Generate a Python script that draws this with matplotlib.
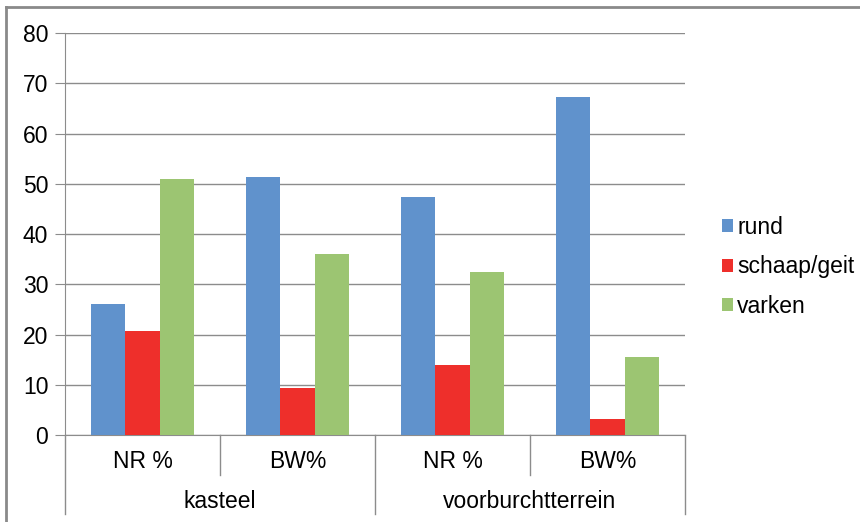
import numpy as np
import matplotlib
matplotlib.use("Agg")
import matplotlib.pyplot as plt
from matplotlib.transforms import blended_transform_factory
from matplotlib.lines import Line2D

plt.rcParams['font.family'] = ['Liberation Sans', 'DejaVu Sans']

sub_labels = ["NR %", "BW%", "NR %", "BW%"]
groups = ["kasteel", "voorburchtterrein"]
series = ["rund", "schaap/geit", "varken"]
rund = [26.0, 51.3, 47.4, 67.2]
schaap = [20.6, 9.4, 13.9, 3.1]
varken = [51.0, 36.0, 32.4, 15.5]
colors = ["#6092cc", "#ee2f2b", "#9cc572"]
FS = 16.5

fig = plt.figure(figsize=(8.6, 5.22), dpi=100)
ax = fig.add_axes([65/860, 1 - 435/522, 620/860, 402/522])

x = np.arange(len(sub_labels))
w = 1 / 4.5
for i, (vals, c, name) in enumerate(zip([rund, schaap, varken], colors, series)):
    ax.bar(x + (i - 1) * w, vals, w, color=c, label=name, zorder=3)

ax.set_xlim(-0.5, 3.5)
ax.set_ylim(0, 80)
ax.set_yticks(range(0, 81, 10))
ax.yaxis.grid(True, color="#8c8c8c", linewidth=1.0, zorder=0)
ax.set_xticks([])
ax.tick_params(axis="y", length=7, color="#8c8c8c", labelsize=FS, pad=5)
for s in ["top", "right"]:
    ax.spines[s].set_visible(False)
ax.spines["left"].set_color("#8c8c8c")
ax.spines["bottom"].set_color("#8c8c8c")

# two level category axis
tr = blended_transform_factory(ax.transData, ax.transAxes)
px = 1 / 402
for xb in [-0.5, 1.5, 3.5]:
    ax.add_line(Line2D([xb, xb], [0, -79 * px], transform=tr, color="#8c8c8c",
                       linewidth=1, clip_on=False))
for xb in [0.5, 2.5]:
    ax.add_line(Line2D([xb, xb], [0, -40 * px], transform=tr, color="#8c8c8c",
                       linewidth=1, clip_on=False))
for xi, lab in zip(x, sub_labels):
    ax.text(xi, -26 * px, lab, transform=tr, ha="center", va="center", fontsize=FS)
for gi, g in enumerate(groups):
    ax.text(gi * 2 + 0.5, -66 * px, g, transform=tr, ha="center", va="center", fontsize=FS)

leg = ax.legend(loc="center left", bbox_to_anchor=(722/860, 1 - 267/522),
                bbox_transform=fig.transFigure, frameon=False, fontsize=FS,
                handlelength=0.48, handleheight=0.48, handletextpad=0.18,
                labelspacing=0.72, borderpad=0, borderaxespad=0)

# chart frame
fig.add_artist(Line2D([6/860, 1], [1 - 7/522, 1 - 7/522], color="#8a8a8a", linewidth=2))
fig.add_artist(Line2D([6/860, 6/860], [0, 1 - 7/522], color="#8a8a8a", linewidth=2))

fig.savefig("out.png", dpi=100)
